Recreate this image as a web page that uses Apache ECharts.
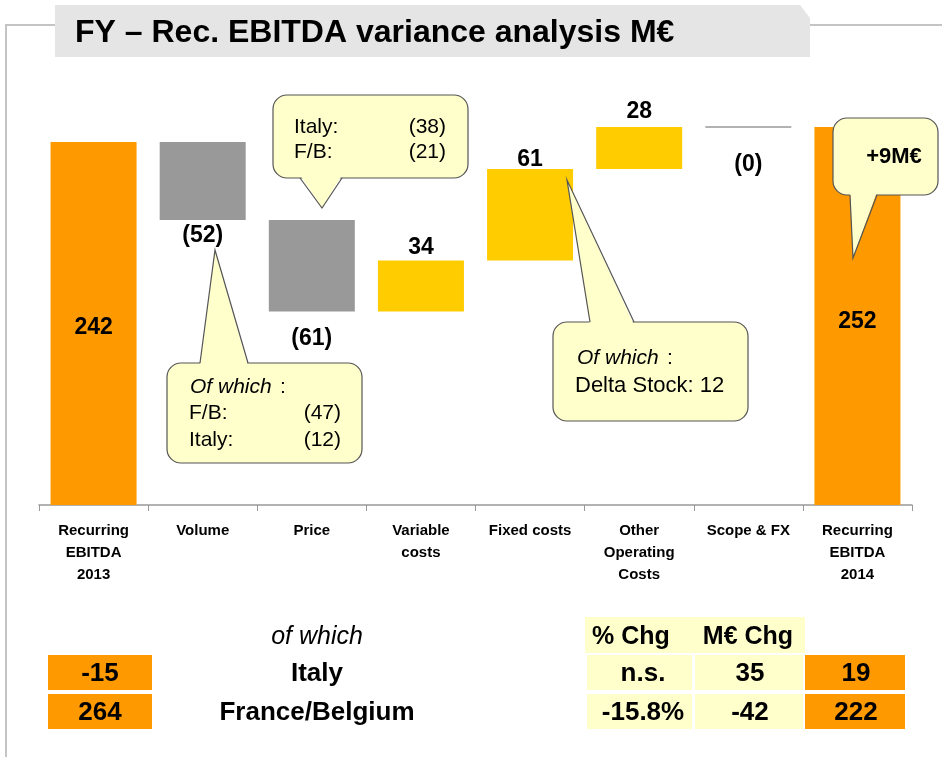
<!DOCTYPE html>
<html>
<head>
<meta charset="utf-8">
<script src="https://cdn.jsdelivr.net/npm/echarts@6/dist/echarts.min.js"></script>
<style>
  html, body { margin: 0; padding: 0; background: #fff; }
  #chart { width: 942px; height: 757px; }
</style>
</head>
<body>
<div id="chart"></div>
<script>
// categories of the bridge
var categories = ['Recurring\nEBITDA\n2013', 'Volume', 'Price', 'Variable\ncosts',
  'Fixed costs', 'Other\nOperating\nCosts', 'Scope & FX', 'Recurring\nEBITDA\n2014'];
var startTotal = 242;
var deltas = [-52, -61, 34, 61, 28, 0];
var endTotal = 252;

// bottom table
var tableRows = ['Italy', 'France/Belgium'];
var rows2013 = ['-15', '264'];
var pctChg = ['n.s.', '-15.8%'];
var meChg = ['35', '-42'];
var rows2014 = ['19', '222'];

var FONT = '"Liberation Sans", Arial, sans-serif';

// label placement per bar (style only)
var labelPos = [
  { position: 'inside', offset: [0, 4] },
  { position: 'bottom', distance: 4 },
  { position: 'bottom', distance: 16 },
  { position: 'top', distance: 1 },
  { position: 'top', distance: -2 },
  { position: 'top', distance: 4 },
  { position: 'bottom', distance: 25 },
  { position: 'inside', offset: [0, 6] }
];

function fmt(v) {
  if (v < 0) return '(' + Math.abs(v) + ')';
  if (v === 0) return '(0)';
  return '' + v;
}

// build waterfall base + visible parts
var baseData = [], barData = [];
var run = startTotal;
baseData.push(0);
barData.push({ value: startTotal, raw: startTotal, itemStyle: { color: '#FF9900' } });
deltas.forEach(function (d) {
  var lo = d < 0 ? run + d : run;
  baseData.push(lo);
  var st = { color: d < 0 ? '#999999' : '#FFCC00' };
  if (d === 0) st = { color: '#999999', borderColor: '#999999', borderWidth: 1.5 };
  barData.push({ value: Math.abs(d), raw: d, itemStyle: st });
  run += d;
});
baseData.push(0);
barData.push({ value: endTotal, raw: endTotal, itemStyle: { color: '#FF9900' } });

barData.forEach(function (item, i) {
  item.label = Object.assign({
    show: true,
    formatter: fmt(item.raw),
    fontFamily: FONT, fontWeight: 'bold', fontSize: 23, color: '#000'
  }, labelPos[i]);
});

// speech bubble: rounded box + pointer
function callout(x, y, w, h, side, b1, b2, tx, ty) {
  var edge = side === 'top' ? y : y + h;
  var inner = side === 'top' ? y + 3 : y + h - 3;
  return [
    { type: 'rect', z: 50, shape: { x: x, y: y, width: w, height: h, r: 14 },
      style: { fill: '#FFFFCC', stroke: '#555', lineWidth: 1.2 } },
    { type: 'polygon', z: 51, shape: { points: [[b1, inner], [tx, ty], [b2, inner]] },
      style: { fill: '#FFFFCC' } },
    { type: 'polyline', z: 52, shape: { points: [[b1, edge], [tx, ty], [b2, edge]] },
      style: { stroke: '#555', lineWidth: 1.2, fill: null } }
  ];
}

function txt(x, y, s, opt) {
  return {
    type: 'text', z: 60, x: x, y: y,
    style: Object.assign({
      text: s, fontFamily: FONT, fontSize: 21, fill: '#000',
      textVerticalAlign: 'middle', textAlign: 'left', verticalAlign: 'middle', align: 'left'
    }, opt || {})
  };
}

function rect(x, y, w, h, color) {
  return { type: 'rect', z: 5, shape: { x: x, y: y, width: w, height: h }, style: { fill: color } };
}

var R = { textAlign: 'right', align: 'right' };

var graphics = [
  // frame lines
  { type: 'polyline', z: 1, shape: { points: [[6, 757], [6, 25], [942, 25]] },
    style: { stroke: '#c4c4c4', lineWidth: 2, fill: null } },
  // title box
  { type: 'polygon', z: 2, shape: { points: [[55, 5], [800, 5], [810, 18], [810, 57], [55, 57]] },
    style: { fill: '#e5e5e5' } },
  txt(75, 33, 'FY \u2013 Rec. EBITDA variance analysis M\u20ac', { fontSize: 32, fontWeight: 'bold' })
];

graphics = graphics.concat(
  callout(273, 95, 195, 83, 'bottom', 300, 342, 322, 208),
  [txt(294, 127, 'Italy:'), txt(446, 127, '(38)', R),
   txt(294, 152, 'F/B:'), txt(446, 152, '(21)', R)],

  callout(167, 363, 195, 100, 'top', 200, 248, 215, 250),
  [txt(190, 387, 'Of which', { fontStyle: 'italic' }), txt(280, 387, ':'),
   txt(189, 413, 'F/B:'), txt(341, 413, '(47)', R),
   txt(189, 440, 'Italy:'), txt(341, 440, '(12)', R)],

  callout(553, 322, 195, 99, 'top', 590, 634, 567, 180),
  [txt(577, 358, 'Of which', { fontStyle: 'italic' }), txt(667, 358, ':'),
   txt(575, 386, 'Delta Stock: 12', { fontSize: 22 })],

  callout(833, 118, 105, 77, 'bottom', 850, 877, 853, 258),
  [txt(894, 157, '+9M\u20ac', { textAlign: 'center', align: 'center', fontWeight: 'bold', fontSize: 22 })]
);

// bottom table
var ctr = { textAlign: 'center', align: 'center', fontWeight: 'bold', fontSize: 25 };
graphics.push(rect(585, 617, 220, 36, '#FFFFCC'));
graphics.push(txt(317, 637, 'of which', { textAlign: 'center', align: 'center', fontStyle: 'italic', fontSize: 25 }));
graphics.push(txt(631, 637, '% Chg', ctr));
graphics.push(txt(748, 637, 'M\u20ac Chg', ctr));

tableRows.forEach(function (name, i) {
  var y = 655 + i * 39;
  var bold = { textAlign: 'center', align: 'center', fontWeight: 'bold', fontSize: 26 };
  graphics.push(rect(48, y, 104, 35, '#FF9900'));
  graphics.push(rect(587, y, 105, 35, '#FFFFCC'));
  graphics.push(rect(695, y, 108, 35, '#FFFFCC'));
  graphics.push(rect(805, y, 100, 35, '#FF9900'));
  graphics.push(txt(100, y + 19, rows2013[i], bold));
  graphics.push(txt(317, y + 19, name, bold));
  graphics.push(txt(643, y + 19, pctChg[i], bold));
  graphics.push(txt(750, y + 19, meChg[i], bold));
  graphics.push(txt(856, y + 19, rows2014[i], bold));
});

var chart = echarts.init(document.getElementById('chart'));
chart.setOption({
  animation: false,
  grid: { left: 39, right: 30, top: 55, bottom: 252 },
  xAxis: {
    type: 'category',
    data: categories,
    axisLine: { lineStyle: { color: '#999', width: 1.5 } },
    axisTick: { show: true, length: 6, lineStyle: { color: '#999' } },
    axisLabel: {
      interval: 0, color: '#000', fontFamily: FONT, fontWeight: 'bold',
      fontSize: 15, lineHeight: 22, margin: 15
    }
  },
  yAxis: { type: 'value', min: 0, max: 300, show: false, splitLine: { show: false } },
  series: [
    {
      type: 'bar', stack: 'w', data: baseData, barWidth: 86,
      itemStyle: { color: 'transparent' }, silent: true
    },
    {
      type: 'bar', stack: 'w', data: barData, barWidth: 86
    }
  ],
  graphic: graphics
});
</script>
</body>
</html>
